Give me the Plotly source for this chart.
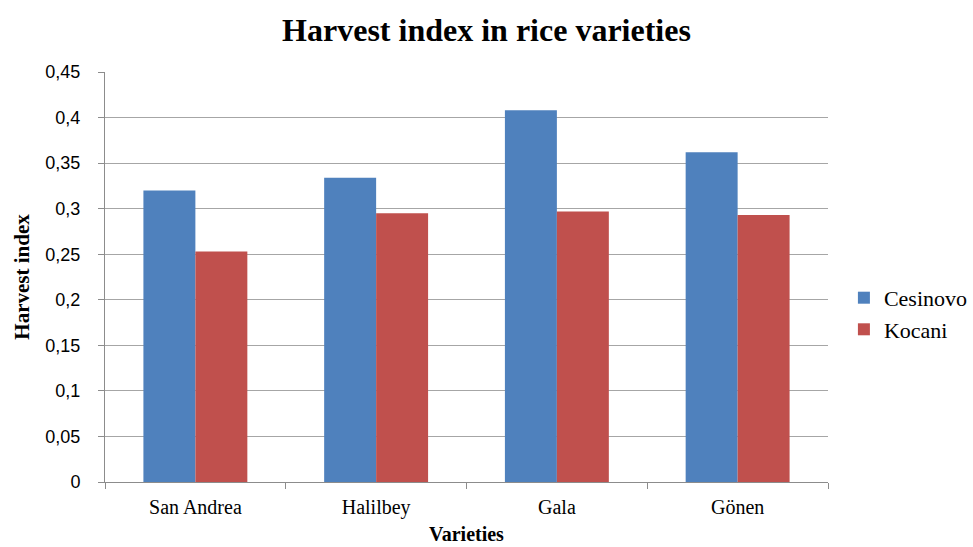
import plotly.graph_objects as go

varieties = ["San Andrea", "Halilbey", "Gala", "Gönen"]
cesinovo = [0.320, 0.334, 0.408, 0.362]
kocani = [0.253, 0.295, 0.297, 0.293]
y_ticks = [0, 0.05, 0.1, 0.15, 0.2, 0.25, 0.3, 0.35, 0.4, 0.45]
y_tick_labels = ["0", "0,05", "0,1", "0,15", "0,2", "0,25", "0,3", "0,35", "0,4", "0,45"]

serif = "Liberation Serif, Times New Roman, serif"
sans = "Liberation Sans, Arial, sans-serif"

fig = go.Figure()
fig.add_trace(go.Bar(name="Cesinovo", x=varieties, y=cesinovo,
                     marker=dict(color="#4F81BD", line=dict(width=0))))
fig.add_trace(go.Bar(name="Kocani", x=varieties, y=kocani,
                     marker=dict(color="#C0504D", line=dict(width=0))))

fig.update_layout(
    width=973, height=547,
    paper_bgcolor="white", plot_bgcolor="white",
    margin=dict(l=105, r=145, t=72, b=65, autoexpand=False),
    barmode="group", bargap=0.425, bargroupgap=0,
    title=dict(text="<b>Harvest index in rice varieties</b>",
               x=0.5, xanchor="center", y=0.945, yanchor="middle",
               font=dict(family=serif, size=32, color="black")),
    legend=dict(x=1.022, y=0.41, xanchor="left", yanchor="middle",
                font=dict(family=serif, size=22, color="black"),
                tracegroupgap=15, itemwidth=30),
    showlegend=True,
)

fig.update_xaxes(
    title=dict(text="<b>Varieties</b>", font=dict(family=serif, size=20, color="black"),
               standoff=8),
    tickfont=dict(family=serif, size=20, color="black"),
    showline=True, linecolor="#8c8c8c", linewidth=1,
    ticks="outside", tickson="boundaries", ticklen=6, tickcolor="#8c8c8c",
    ticklabelstandoff=7,
    showgrid=False, automargin=False,
)

fig.update_yaxes(
    title=dict(text="<b>Harvest index</b>", font=dict(family=serif, size=21, color="black"),
               standoff=10),
    range=[0, 0.45],
    tickmode="array", tickvals=y_ticks, ticktext=y_tick_labels,
    tickfont=dict(family=sans, size=18, color="black"),
    showline=True, linecolor="#8c8c8c", linewidth=1,
    ticks="outside", ticklen=6, tickcolor="#8c8c8c",
    ticklabelstandoff=14,
    showgrid=True, gridcolor="#a6a6a6", gridwidth=1,
    zeroline=False, automargin=False,
)

fig.write_html("out.html")
